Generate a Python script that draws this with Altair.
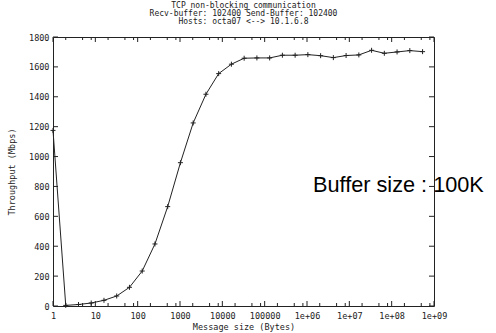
import altair as alt
import pandas as pd

# ---- data ----
msg_size = [1, 2, 4, 8, 16, 32, 64, 128, 256, 512, 1024, 2048, 4096, 8192,
            16384, 32768, 65536, 131072, 262144, 524288, 1048576, 2097152,
            4194304, 8388608, 16777216, 33554432, 67108864, 134217728,
            268435456, 536870912]
throughput = [1175, 4, 10, 20, 38, 67, 125, 234, 415, 665, 959, 1225, 1417,
              1555, 1618, 1658, 1660, 1660, 1678, 1678, 1682, 1675, 1662,
              1676, 1680, 1711, 1691, 1700, 1709, 1702]

x_major = [1, 10, 100, 1000, 10000, 100000, 1e6, 1e7, 1e8, 1e9]
x_minor_mult = [2, 5, 8]
y_major = [0, 200, 400, 600, 800, 1000, 1200, 1400, 1600, 1800]

title_lines = ["TCP non-blocking communication",
               "Recv-buffer: 102400 Send-Buffer: 102400",
               "Hosts: octa07 <--> 10.1.6.8"]
x_title = "Message size (Bytes)"
y_title = "Throughput (Mbps)"
annotation = "Buffer size : 100K"

W, H = 381, 269
MONO = "DejaVu Sans Mono"

df = pd.DataFrame({"size": msg_size, "tp": throughput})
x_minor = [m * d for d in x_major[:-1] for m in x_minor_mult]
df_xmaj = pd.DataFrame({"v": x_major})
df_xmin = pd.DataFrame({"v": x_minor})
df_y = pd.DataFrame({"v": y_major})

xscale = alt.Scale(type="log", domain=[1, 1e9])
yscale = alt.Scale(domain=[0, 1800], nice=False, zero=False)

label_expr = ("datum.value < 1e6 ? format(datum.value, 'd') : "
              "'1e+' + (round(log(datum.value)/LN10) < 10 ? '0' : '') + "
              "round(log(datum.value)/LN10)")

xaxis = alt.Axis(values=x_major, labelExpr=label_expr, ticks=False,
                 domain=False, grid=False, labelPadding=5, titlePadding=3,
                 labelFlush=False, labelOverlap=False)
yaxis = alt.Axis(values=y_major, format="d", ticks=False, domain=False,
                 grid=False, labelPadding=4, titlePadding=12,
                 labelOverlap=False, labelFlush=False)


def X(field):
    return alt.X(field, scale=xscale, axis=xaxis, title=x_title)


def Y(field):
    return alt.Y(field, scale=yscale, axis=yaxis, title=y_title)


base = alt.Chart(df)
line = base.mark_line(color="#222", strokeWidth=1).encode(
    x=X("size:Q"), y=Y("tp:Q"))
pts = base.mark_point(shape="M-1,0L1,0M0,-1L0,1", size=25, filled=False,
                      color="#222", strokeWidth=1, opacity=1).encode(
    x=X("size:Q"), y=Y("tp:Q"))

tick_color = "#222"
ytl = alt.Chart(df_y).mark_rule(color=tick_color).encode(
    y=Y("v:Q"), x=alt.value(0), x2=alt.value(5))
ytr = alt.Chart(df_y).mark_rule(color=tick_color).encode(
    y=Y("v:Q"), x=alt.value(W - 5), x2=alt.value(W))
xtb = alt.Chart(df_xmaj).mark_rule(color=tick_color).encode(
    x=X("v:Q"), y=alt.value(H), y2=alt.value(H - 5))
xtt = alt.Chart(df_xmaj).mark_rule(color=tick_color).encode(
    x=X("v:Q"), y=alt.value(0), y2=alt.value(5))
xmb = alt.Chart(df_xmin).mark_rule(color=tick_color).encode(
    x=X("v:Q"), y=alt.value(H), y2=alt.value(H - 3))
xmt = alt.Chart(df_xmin).mark_rule(color=tick_color).encode(
    x=X("v:Q"), y=alt.value(0), y2=alt.value(3))

note = alt.Chart(pd.DataFrame({"t": [annotation]})).mark_text(
    align="left", baseline="alphabetic", font="Liberation Sans",
    fontSize=21.7, color="black").encode(
    text="t:N", x=alt.value(260), y=alt.value(155))

chart = alt.layer(line, pts, ytl, ytr, xtb, xtt, xmb, xmt, note).properties(
    width=W, height=H,
    title=alt.TitleParams(text=title_lines, anchor="middle", font=MONO,
                          fontSize=8, fontWeight="normal", color="#222",
                          lineHeight=8, offset=7),
    padding={"left": 53, "top": 37, "right": 62, "bottom": 27},
    autosize=alt.AutoSizeParams(type="none"),
).configure_view(stroke="#222", strokeWidth=1).configure_axis(
    labelFont=MONO, labelFontSize=8.5, labelColor="#222",
    titleFont=MONO, titleFontSize=8.5, titleFontWeight="normal",
    titleColor="#222",
)

chart.save("out.html", embed_options={"renderer": "svg", "actions": False})
